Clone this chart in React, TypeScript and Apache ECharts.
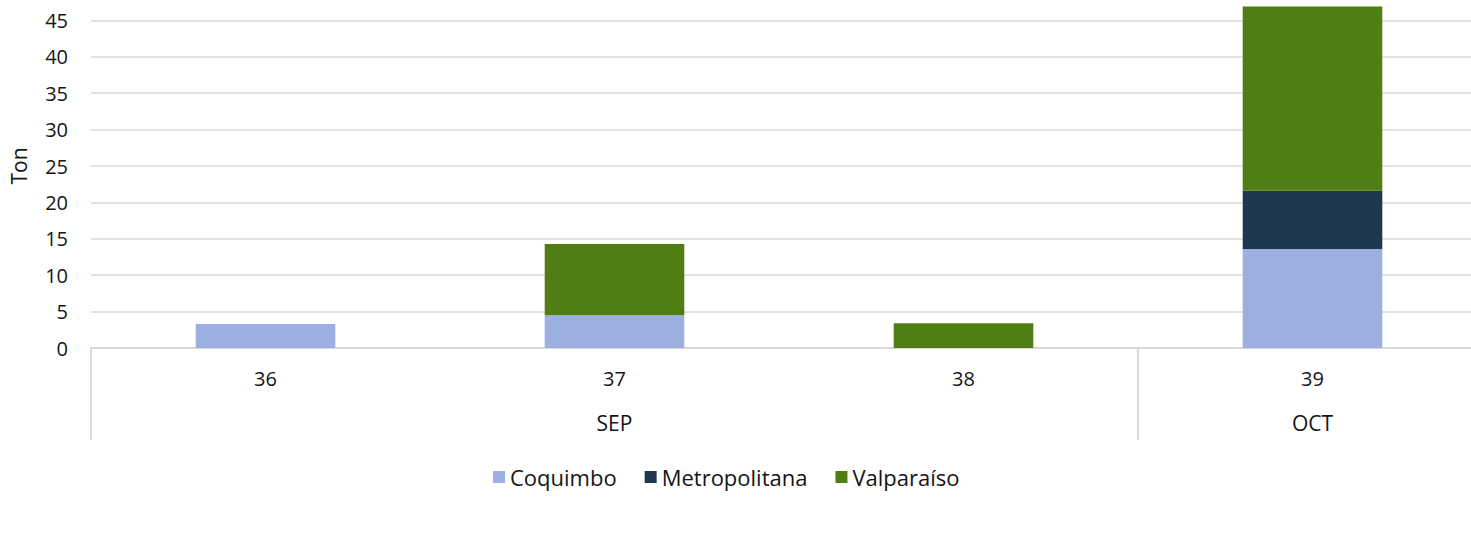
import React, { useEffect, useRef } from "react";
import * as echarts from "echarts";

const weeks = ["36", "37", "38", "39"];
const monthSlots = ["", "", "", "SEP", "", "", "", "OCT", ""];
const separatorSlots = [0, 6, 8];
const coquimbo = [3.3, 4.5, 0, 13.6];
const metropolitana = [0, 0, 0, 8.0];
const valparaiso = [0, 9.8, 3.4, 25.3];
const seriesNames = ["Coquimbo", "Metropolitana", "Valparaíso"];
const colors = ["#9DAEE0", "#203750", "#507E15"];

const FONT = "Open Sans";
const TXT = "#151515";
const SHIFT = 16; // chart canvas extends above the visible page

export default function App() {
  const ref = useRef<HTMLDivElement>(null);
  useEffect(() => {
    if (!ref.current) return;
    const chart = echarts.init(ref.current, undefined, { renderer: "svg" });
    const values = [coquimbo, metropolitana, valparaiso];
    chart.setOption({
      animation: false,
      textStyle: { fontFamily: FONT },
      grid: { left: 90, right: 0, top: 0, bottom: 191, containLabel: false },
      legend: {
        left: 488,
        top: 460 + SHIFT,
        itemWidth: 12,
        itemHeight: 12,
        itemGap: 28,
        icon: "rect",
        textStyle: { fontFamily: FONT, fontSize: 22, color: TXT, lineHeight: 24 },
        data: seriesNames,
      },
      xAxis: [
        {
          type: "category",
          data: weeks,
          position: "bottom",
          axisLine: { show: true, lineStyle: { color: "#d9d9d9", width: 2 } },
          axisTick: { show: false },
          axisLabel: { fontFamily: FONT, fontSize: 20, color: TXT, margin: 20 },
        },
        {
          type: "category",
          data: monthSlots,
          position: "bottom",
          boundaryGap: false,
          axisLine: { show: false },
          axisTick: {
            show: true,
            length: 92,
            interval: (i: number) => separatorSlots.includes(i),
            lineStyle: { color: "#d9d9d9", width: 2 },
          },
          axisLabel: { interval: 0, fontFamily: FONT, fontSize: 21, color: TXT, margin: 64 },
        },
      ],
      yAxis: {
        type: "value",
        min: 0,
        max: 50,
        interval: 5,
        name: "Ton",
        nameLocation: "middle",
        nameGap: 62,
        nameTextStyle: { fontFamily: FONT, fontSize: 21, color: TXT },
        axisLine: { show: false },
        axisTick: { show: false },
        axisLabel: {
          fontFamily: FONT,
          fontSize: 20,
          color: TXT,
          margin: 23,
          formatter: (v: number) => (v >= 50 ? "" : String(v)),
        },
        splitLine: { lineStyle: { color: "#d9d9d9", width: 1.5 } },
      },
      series: seriesNames.map((name, k) => ({
        name,
        type: "bar",
        stack: "total",
        xAxisIndex: 0,
        barWidth: "40%",
        itemStyle: { color: colors[k] },
        data: values[k],
      })),
    });
    return () => chart.dispose();
  }, []);
  return (
    <div
      style={{
        position: "fixed",
        left: 0,
        top: 0,
        width: 1471,
        height: 539,
        overflow: "hidden",
        background: "#fff",
      }}
    >
      <div
        ref={ref}
        style={{ position: "absolute", left: 0, top: -SHIFT, width: 1490, height: 539 + SHIFT }}
      />
    </div>
  );
}
